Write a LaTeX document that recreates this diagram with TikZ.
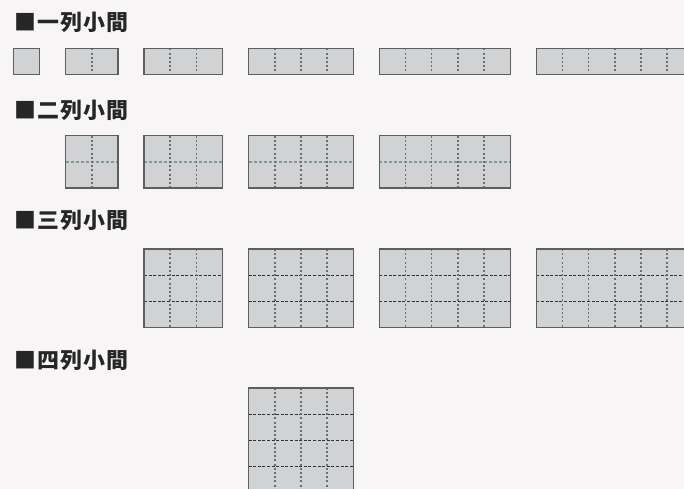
\documentclass[tikz,border=0pt]{standalone}
\usepackage{fontspec}
\newfontfamily\cjk{Noto Sans CJK JP}[LetterSpace=6]
\definecolor{paper}{HTML}{F7F5F5}
\definecolor{boxfill}{HTML}{D1D2D4}
\definecolor{boxedge}{HTML}{5E5E5E}
\definecolor{dotgray}{HTML}{6E6E6E}
\definecolor{dashdark}{HTML}{333333}
\definecolor{dashgreen}{HTML}{7F9C93}
\tikzset{
  cellbox/.style={draw=boxedge, fill=boxfill, line width=1.3bp},
  colline/.style={draw=dotgray, line width=1.5bp, dash pattern=on 2bp off 2.2bp},
  rowline/.style={draw=dashdark, line width=1.1bp, dash pattern=on 3bp off 1.6bp},
  greenline/.style={draw=dashgreen, line width=1.3bp, dash pattern=on 3bp off 2bp},
  heading/.style={anchor=west, inner sep=0pt, text=black!85,
    font=\cjk\bfseries\fontsize{22}{22}\selectfont}
}
% one booth: [style of row lines] x, top, columns, rows
\newcommand{\booth}[5][rowline]{%
  \fill[boxfill] (#2,#3) rectangle ++(#4,#5);
  \pgfmathtruncatemacro\ncol{#4-1}
  \pgfmathtruncatemacro\nrow{#5-1}
  \ifnum\nrow>0
    \foreach \j in {1,...,\nrow}
      \draw[#1] (#2,#3+\j) -- ++(#4,0);
  \fi
  \ifnum\ncol>0
    \foreach \i in {1,...,\ncol}
      \draw[colline] (#2+\i,#3) -- ++(0,#5);
  \fi
  \draw[cellbox, fill=none] (#2,#3) rectangle ++(#4,#5);
}

\begin{document}
\begin{tikzpicture}[x=26.15bp, y=-26.15bp]
  \fill[paper] (0,0) rectangle (26.157,18.70);
  \useasboundingbox (0,0) rectangle (26.157,18.70);
  \clip (0,0) rectangle (26.157,18.70);

  % headings
  \node[heading] (t1) at (0.53,0.86) {■一列小間};
  \node[heading] (t2) at (0.53,4.21) {■二列小間};
  \node[heading] (t3) at (0.53,8.41) {■三列小間};
  \node[heading] (t4) at (0.53,13.77) {■四列小間};

  % one row
  \booth{0.51}{1.85}{1}{1}
  \booth{2.51}{1.85}{2}{1}
  \booth{5.51}{1.85}{3}{1}
  \booth{9.51}{1.85}{4}{1}
  \booth{14.51}{1.85}{5}{1}
  \booth{20.51}{1.85}{6}{1}

  % two rows
  \booth[greenline]{2.51}{5.19}{2}{2}
  \booth[greenline]{5.51}{5.19}{3}{2}
  \booth[greenline]{9.51}{5.19}{4}{2}
  \booth[greenline]{14.51}{5.19}{5}{2}

  % three rows
  \booth{5.51}{9.52}{3}{3}
  \booth{9.51}{9.52}{4}{3}
  \booth{14.51}{9.52}{5}{3}
  \booth{20.51}{9.52}{6}{3}

  % four rows
  \booth{9.51}{14.84}{4}{4}
\end{tikzpicture}
\end{document}
